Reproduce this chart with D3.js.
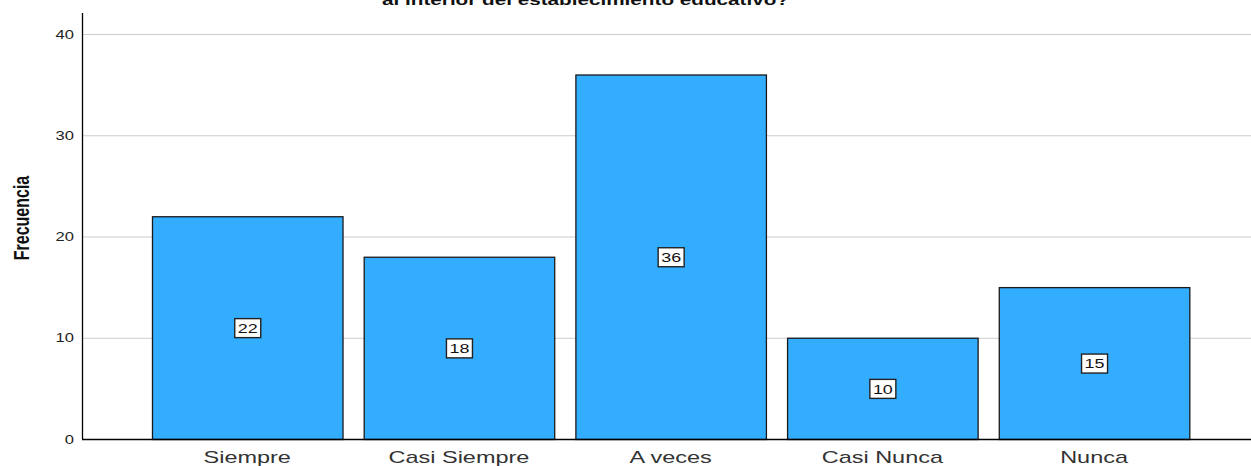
<!DOCTYPE html>
<html>
<head>
<meta charset="utf-8">
<script src="https://cdn.jsdelivr.net/npm/d3@7"></script>
<style>
  body { margin: 0; background: #fff; }
  svg { display: block; }
</style>
</head>
<body>
<script>
// data
var categories = ["Siempre", "Casi Siempre", "A veces", "Casi Nunca", "Nunca"];
var frecuencias = [22, 18, 36, 10, 15];
var yTicks = [0, 10, 20, 30, 40];
var titulo = "al interior del establecimiento educativo?";

var W = 1251, H = 466;
var sx = 1.38; // the original text looks stretched sideways
var font = "Liberation Sans, Arial, sans-serif";

var svg = d3.select("body").append("svg")
    .attr("width", W)
    .attr("height", H);

// set the ranges
var y = d3.scaleLinear().domain([0, 40]).range([439, 34]);
var x = d3.scaleBand().domain(categories)
    .range([141.4, 1199.9])
    .paddingInner(0.1)
    .paddingOuter(0.05);

// gridlines
svg.append("g")
    .selectAll("line")
    .data(yTicks.filter(function(d) { return d > 0; }))
  .enter().append("line")
    .attr("x1", 82).attr("x2", W)
    .attr("y1", function(d) { return y(d) + 0.5; })
    .attr("y2", function(d) { return y(d) + 0.5; })
    .attr("stroke", "#cccccc")
    .attr("stroke-width", 1);

// bars
svg.append("g")
    .selectAll("rect")
    .data(frecuencias)
  .enter().append("rect")
    .attr("x", function(d, i) { return x(categories[i]) + 0.5; })
    .attr("y", function(d) { return y(d) + 0.5; })
    .attr("width", x.bandwidth())
    .attr("height", function(d) { return y(0) - y(d); })
    .attr("fill", "#33adff")
    .attr("stroke", "#1a1a1a")
    .attr("stroke-width", 1.3);

// Y axis
var yAxis = svg.append("g")
    .attr("transform", "translate(82,0)")
    .call(d3.axisLeft(y).tickValues(yTicks).tickSize(0).tickPadding(0));
yAxis.select(".domain").remove();
yAxis.selectAll("text")
    .attr("x", -8 / sx)
    .attr("transform", "scale(" + sx + ",1)")
    .attr("font-family", font)
    .attr("font-size", 12)
    .attr("fill", "#222")
    .attr("dy", "0.35em");

svg.append("line")
    .attr("x1", 82.5).attr("x2", 82.5)
    .attr("y1", 13).attr("y2", 439)
    .attr("stroke", "#000").attr("stroke-width", 1.3);
svg.append("line")
    .attr("x1", 82).attr("x2", W)
    .attr("y1", 439.5).attr("y2", 439.5)
    .attr("stroke", "#000").attr("stroke-width", 1.3);

// X axis labels
var xAxis = svg.append("g")
    .attr("transform", "translate(0,439)")
    .call(d3.axisBottom(x).tickSize(0).tickPadding(0));
xAxis.select(".domain").remove();
xAxis.selectAll("text")
    .attr("y", 0)
    .attr("dy", 0)
    .attr("transform", "translate(0,24) scale(" + sx + ",1)")
    .attr("font-family", font)
    .attr("font-size", 17)
    .attr("fill", "#333");

// value labels
var lab = svg.append("g")
    .selectAll("g")
    .data(frecuencias)
  .enter().append("g")
    .attr("transform", function(d, i) {
      return "translate(" + (x(categories[i]) + x.bandwidth() / 2) + "," + ((y(d) + y(0)) / 2) + ")";
    });
lab.append("rect")
    .attr("x", -12.5).attr("y", -9)
    .attr("width", 26).attr("height", 19)
    .attr("fill", "#fff")
    .attr("stroke", "#222")
    .attr("stroke-width", 1.4);
lab.append("text")
    .attr("transform", "scale(" + sx + ",1)")
    .attr("x", 0.5 / sx)
    .attr("text-anchor", "middle")
    .attr("dy", "0.4em")
    .attr("font-family", font)
    .attr("font-size", 13)
    .attr("fill", "#111")
    .text(function(d) { return d; });

// axis title
svg.append("text")
    .attr("transform", "translate(29,218) scale(" + sx + ",1) rotate(-90)")
    .attr("text-anchor", "middle")
    .attr("font-family", font)
    .attr("font-weight", "bold")
    .attr("font-size", 16)
    .attr("fill", "#111")
    .text("Frecuencia");

// chart title, cut off at the top as in the original
svg.append("text")
    .attr("transform", "translate(585.5,5) scale(" + sx + ",1)")
    .attr("text-anchor", "middle")
    .attr("font-family", font)
    .attr("font-weight", "bold")
    .attr("font-size", 15)
    .attr("fill", "#111")
    .text(titulo);
</script>
</body>
</html>
